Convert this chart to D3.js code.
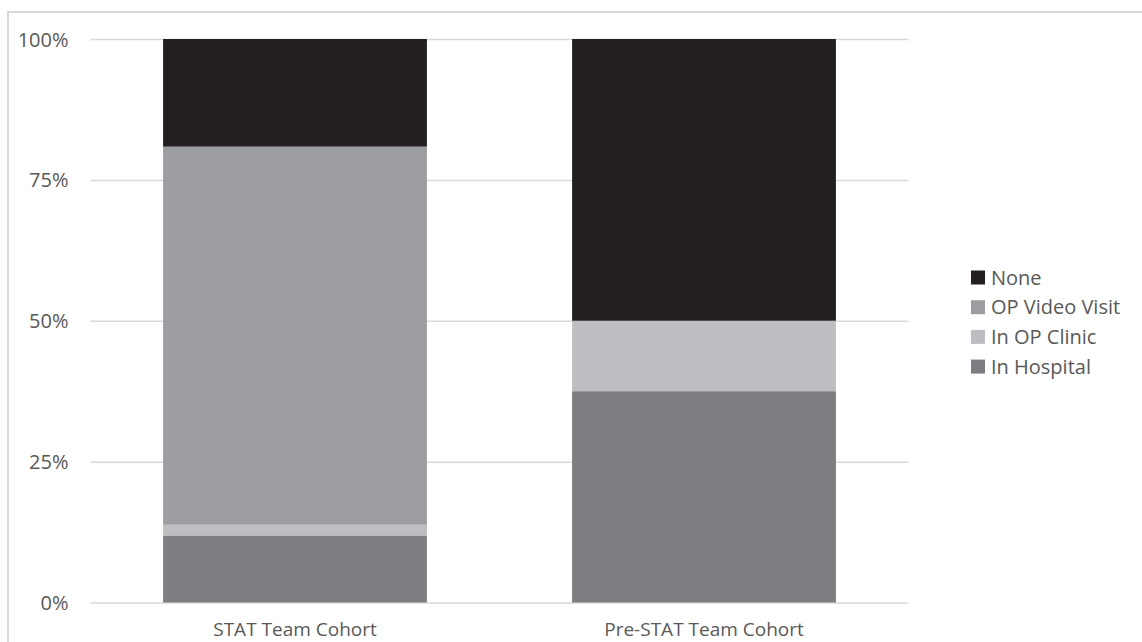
<!DOCTYPE html>
<html>
<head>
<meta charset="utf-8">
<script src="https://cdn.jsdelivr.net/npm/d3@7"></script>
<style>
  html, body { margin: 0; padding: 0; background: #fff; }
  svg { display: block; }
  text { font-family: "Open Sans", sans-serif; fill: #595959; }
</style>
</head>
<body>
<svg id="chart" width="1142" height="642"></svg>
<script>
const categories = ["STAT Team Cohort", "Pre-STAT Team Cohort"];
const seriesNames = ["In Hospital", "In OP Clinic", "OP Video Visit", "None"];
const inHospital = [11.9, 37.5];
const inOPClinic = [1.9, 12.5];
const opVideoVisit = [67.1, 0];
const none = [19.1, 50];
const yTicks = [0, 25, 50, 75, 100];
const legendOrder = ["None", "OP Video Visit", "In OP Clinic", "In Hospital"];
const colors = {
  "In Hospital": "#7d7e82",
  "In OP Clinic": "#bdbec1",
  "OP Video Visit": "#9c9da0",
  "None": "#231f20"
};

const seriesValues = {
  "In Hospital": inHospital,
  "In OP Clinic": inOPClinic,
  "OP Video Visit": opVideoVisit,
  "None": none
};
const table = categories.map((c, i) => {
  const row = { category: c };
  seriesNames.forEach(s => row[s] = seriesValues[s][i]);
  return row;
});

const svg = d3.select("#chart");

// outer frame
svg.append("rect")
  .attr("x", 8).attr("y", 12)
  .attr("width", 1160).attr("height", 660)
  .attr("fill", "none").attr("stroke", "#d9d9d9").attr("stroke-width", 2);

const x0 = 90.5, x1 = 908.5, yTop = 39, yBot = 602.5;

const x = d3.scaleBand().domain(categories).range([x0, x1])
  .paddingInner(0.355).paddingOuter(0.1775);
const y = d3.scaleLinear().domain([0, 100]).range([yBot, yTop]);

// gridlines
const yAxis = d3.axisLeft(y).tickValues(yTicks).tickSize(-(x1 - x0)).tickFormat(d => d + "%");
const gAxis = svg.append("g").attr("transform", `translate(${x0},0)`).call(yAxis);
gAxis.select(".domain").remove();
gAxis.selectAll(".tick line").attr("stroke", "#d9d9d9").attr("stroke-width", 1.5);
gAxis.selectAll(".tick text")
  .attr("x", -22).attr("dy", "0.35em")
  .style("font-size", "20px").style("fill", "#595959");

// stacked bars
const stack = d3.stack().keys(seriesNames);
const layers = stack(table);
svg.append("g").selectAll("g")
  .data(layers).join("g")
  .attr("fill", d => colors[d.key])
  .selectAll("rect")
  .data(d => d).join("rect")
  .attr("x", d => x(d.data.category))
  .attr("width", x.bandwidth())
  .attr("y", d => y(d[1]))
  .attr("height", d => y(d[0]) - y(d[1]));

// x axis labels
const xAxis = d3.axisBottom(x).tickSize(0);
const gx = svg.append("g").attr("transform", `translate(0,${yBot})`).call(xAxis);
gx.select(".domain").remove();
gx.selectAll(".tick text")
  .attr("y", 33).attr("dy", 0)
  .style("font-size", "19px").style("fill", "#595959");

// legend
const legend = svg.append("g");
legendOrder.forEach((name, i) => {
  const cy = 277.5 + i * 29.7;
  legend.append("rect")
    .attr("x", 971).attr("y", cy - 7).attr("width", 14).attr("height", 14)
    .attr("fill", colors[name]);
  legend.append("text")
    .attr("x", 991).attr("y", cy).attr("dy", "0.35em")
    .style("font-size", "20px").style("fill", "#595959")
    .text(name);
});
</script>
</body>
</html>
